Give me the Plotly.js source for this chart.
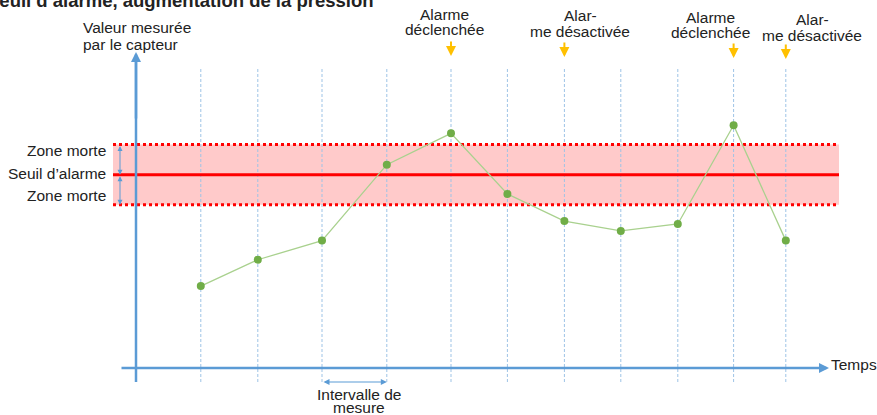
<!DOCTYPE html>
<html>
<head>
<meta charset="utf-8">
<script src="https://cdn.plot.ly/plotly-3.0.1.min.js"></script>
<style>html,body{margin:0;padding:0;background:#fff;}#chart{width:877px;height:415px;}</style>
</head>
<body>
<div id="chart"></div>
<script>
// ---- data ----
const times = [1.08, 2.03, 3.10, 4.18, 5.25, 6.19, 7.14, 8.08, 9.03, 9.96, 10.83];
const values = [4.24, 5.60, 6.59, 10.52, 12.14, 9.00, 7.60, 7.09, 7.45, 12.56, 6.59];
const threshold = 10;
const deadZone = 1.56;
const eventIndex = [4, 6, 9, 10];
const eventLabels = [["Alarme", "déclenchée"], ["Alar-", "me désactivée"], ["Alarme", "déclenchée"], ["Alar-", "me désactivée"]];
const bandLabels = ["Zone morte", "Seuil d’alarme", "Zone morte"];
const yTitleLines = ["Valeur mesurée", "par le capteur"];
const xTitle = "Temps";
const intervalLines = ["Intervalle de", "mesure"];
const chartTitle = "Seuil d’alarme, augmentation de la pression";

// ---- pixel helpers for layout placement ----
const PXU = 60, PYU = 19.33, OX = 136, OY = 368;
const X = p => (p - OX) / PXU;
const Y = p => (OY - p) / PYU;

const FONT = "Liberation Sans, Arial, Helvetica, sans-serif";
const blue = "#5b9bd5";
const gridBlue = "#9dc3e6";
const red = "#ff0000";
const orange = "#ffc000";

const shapes = [];
// dead zone band
shapes.push({type: "rect", xref: "x", yref: "y", x0: X(113), x1: X(839),
  y0: threshold - deadZone, y1: threshold + deadZone, fillcolor: "#ffcaca", line: {width: 0}, layer: "below"});
// measurement gridlines
times.forEach(t => shapes.push({type: "line", xref: "x", yref: "y", x0: t, x1: t, y0: Y(382), y1: Y(67),
  line: {color: gridBlue, width: 1, dash: "3px,2px"}, layer: "below"}));
// dead zone limits & threshold
[threshold + deadZone, threshold - deadZone].forEach(v => shapes.push({type: "line", xref: "x", yref: "y",
  x0: X(113), x1: X(839), y0: v, y1: v, line: {color: red, width: 3, dash: "dot"}, layer: "below"}));
shapes.push({type: "line", xref: "x", yref: "y", x0: X(113), x1: X(839), y0: threshold, y1: threshold,
  line: {color: red, width: 3}, layer: "below"});
// y axis line (lower part; arrow drawn separately)
shapes.push({type: "line", xref: "x", yref: "y", x0: 0, x1: 0, y0: Y(382), y1: Y(60), line: {color: blue, width: 2.5}});

const annotations = [];
function arrow(x, y, ax, ay, color, width, size, side) {
  annotations.push({xref: "x", yref: "y", axref: "x", ayref: "y", x: x, y: y, ax: ax, ay: ay, text: "",
    showarrow: true, arrowhead: 2, arrowsize: size, arrowwidth: width, arrowcolor: color,
    arrowside: side || "end", standoff: 0, startstandoff: 0});
}
function label(text, px, py, anchor, size, bold) {
  annotations.push({xref: "x", yref: "y", x: X(px), y: Y(py), text: bold ? "<b>" + text + "</b>" : text,
    showarrow: false, xanchor: anchor, yanchor: "middle", borderpad: 0,
    font: {family: FONT, size: size || 15.5, color: "#222222"}});
}
// axes arrows
arrow(0, Y(52), 0, Y(120), blue, 2.5, 0.8);
arrow(X(829), 0, X(120), 0, blue, 2.5, 0.8);
// dead zone double arrows
arrow(X(120), threshold, X(120), threshold + deadZone, blue, 1, 1, "end+start");
arrow(X(120), threshold - deadZone, X(120), threshold, blue, 1, 1, "end+start");
// interval arrow
arrow(times[3], Y(382), times[2], Y(382), blue, 1.2, 1, "end+start");
// event arrows
const arrowTops = [40, 41, 42, 43];
eventIndex.forEach((idx, k) => arrow(times[idx], Y(arrowTops[k] + 16), times[idx], Y(arrowTops[k]), orange, 2, 1));

// texts
label(chartTitle, 375, 0, "right", 18.5, true);
label(yTitleLines[0], 82, 27, "left");
label(yTitleLines[1], 82, 44, "left");
label(bandLabels[0], 107, 150, "right");
label(bandLabels[1], 107, 173, "right");
label(bandLabels[2], 107, 195, "right");
label(xTitle, 830, 364, "left");
label(intervalLines[0], 359, 394, "center");
label(intervalLines[1], 359, 407, "center");
const labelCenters = [[444, 14, 29], [580, 15, 31], [710, 17.5, 32.5], [812, 19, 35]];
eventLabels.forEach((lines, k) => {
  label(lines[0], labelCenters[k][0], labelCenters[k][1], "center");
  label(lines[1], labelCenters[k][0], labelCenters[k][2], "center");
});

const traces = [{
  type: "scatter", mode: "lines+markers", x: times, y: values,
  line: {color: "#a9d18e", width: 1.3},
  marker: {color: "#70ad47", size: 8},
  cliponaxis: false, hoverinfo: "skip"
}];

const layout = {
  width: 877, height: 415,
  margin: {l: 0, r: 0, t: 0, b: 0, pad: 0},
  paper_bgcolor: "#ffffff", plot_bgcolor: "#ffffff",
  showlegend: false,
  xaxis: {range: [X(0), X(877)], visible: false, fixedrange: true},
  yaxis: {range: [Y(415), Y(0)], visible: false, fixedrange: true},
  shapes: shapes,
  annotations: annotations,
  font: {family: FONT}
};

Plotly.newPlot("chart", traces, layout, {staticPlot: true, displayModeBar: false});
</script>
</body>
</html>
